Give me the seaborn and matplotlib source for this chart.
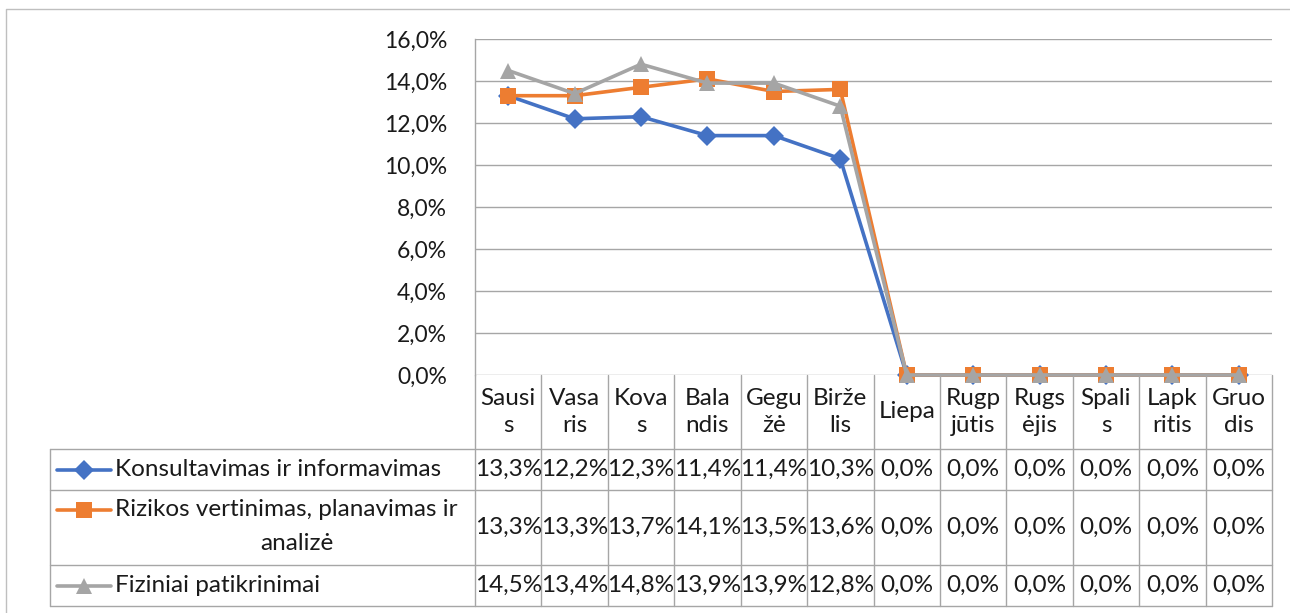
import numpy as np
import pandas as pd
import matplotlib
matplotlib.use("Agg")
import matplotlib.pyplot as plt
import seaborn as sns
from matplotlib.lines import Line2D
from matplotlib.transforms import blended_transform_factory
from matplotlib.ticker import FuncFormatter, MultipleLocator

# ---------------- data ----------------
month_labels = ["Sausi\ns", "Vasa\nris", "Kova\ns", "Bala\nndis", "Gegu\nžė", "Birže\nlis",
                "Liepa", "Rugp\njūtis", "Rugs\nėjis", "Spali\ns", "Lapk\nritis", "Gruo\ndis"]
series_names = ["Konsultavimas ir informavimas",
                "Rizikos vertinimas, planavimas ir\nanalizė",
                "Fiziniai patikrinimai"]
konsultavimas = [13.3, 12.2, 12.3, 11.4, 11.4, 10.3, 0.0, 0.0, 0.0, 0.0, 0.0, 0.0]
rizikos = [13.3, 13.3, 13.7, 14.1, 13.5, 13.6, 0.0, 0.0, 0.0, 0.0, 0.0, 0.0]
fiziniai = [14.5, 13.4, 14.8, 13.9, 13.9, 12.8, 0.0, 0.0, 0.0, 0.0, 0.0, 0.0]
series_values = [konsultavimas, rizikos, fiziniai]

colors = ["#4472C4", "#ED7D31", "#A5A5A5"]
markers = ["D", "s", "^"]
msizes = [10, 11, 11.5]

FONT = "Lato"
FS = 17.5
FS_TICK = 16.5
TXT = "#1a1a1a"
GRID = "#a6a6a6"

sns.set_theme(style="white")
plt.rcParams["font.family"] = [FONT, "DejaVu Sans"]

W, H = 1290, 613
fig = plt.figure(figsize=(W / 100, H / 100), dpi=100)

def fy(py):
    return 1 - py / H

def fx(px):
    return px / W

L, R, T, B = 475, 1272, 39, 375
ax = fig.add_axes([fx(L), fy(B), fx(R) - fx(L), fy(T) - fy(B)])

n = len(month_labels)
for i, (name, vals) in enumerate(zip(series_names, series_values)):
    df = pd.DataFrame({"x": np.arange(n), "y": vals})
    sns.lineplot(data=df, x="x", y="y", ax=ax, color=colors[i], marker=markers[i],
                 markersize=msizes[i], markeredgewidth=0, linewidth=2.6, zorder=3 + i,
                 clip_on=False)

ax.set_xlim(-0.5, n - 0.5)
ax.set_ylim(0, 16)
ax.yaxis.set_major_locator(MultipleLocator(2))
ax.yaxis.set_major_formatter(FuncFormatter(lambda v, p: f"{v:.1f}%".replace(".", ",")))
ax.set_xticks([])
ax.set_xlabel("")
ax.set_ylabel("")
ax.grid(axis="y", color=GRID, linewidth=1.0)
ax.set_axisbelow(True)
for s in ["top", "right", "bottom"]:
    ax.spines[s].set_visible(False)
ax.spines["left"].set_color(GRID)
ax.spines["left"].set_linewidth(1.0)
ax.tick_params(axis="y", length=0, pad=20, labelsize=FS_TICK, labelcolor=TXT)
for lab in ax.get_yticklabels():
    lab.set_fontfamily([FONT, "DejaVu Sans"])

# ---------------- data table ----------------
bt = blended_transform_factory(ax.transData, fig.transFigure)
rows_y = [B, 449, 490, 565, 606]
LEG_L = 50

def hline(x0, x1, py):
    fig.add_artist(Line2D([fx(x0), fx(x1)], [fy(py), fy(py)], color=GRID, lw=1.0,
                          transform=fig.transFigure))

def vline(px, y0, y1):
    fig.add_artist(Line2D([fx(px), fx(px)], [fy(y0), fy(y1)], color=GRID, lw=1.0,
                          transform=fig.transFigure))

for py in rows_y[1:]:
    hline(LEG_L, R, py)
vline(LEG_L, rows_y[1], rows_y[-1])
for j in range(n + 1):
    px = L + (R - L) * j / n
    vline(px, B, rows_y[-1])

# header labels
for j, lab in enumerate(month_labels):
    fig.text(j, fy((rows_y[0] + rows_y[1]) / 2), lab, transform=bt, ha="center",
             va="center", fontsize=FS, color=TXT, linespacing=1.38)

# values
for i, vals in enumerate(series_values):
    yc = fy((rows_y[i + 1] + rows_y[i + 2]) / 2)
    for j, v in enumerate(vals):
        fig.text(j, yc, f"{v:.1f}%".replace(".", ","), transform=bt, ha="center",
                 va="center", fontsize=FS, color=TXT)
    # legend key
    ky = yc if i != 1 else fy(510)
    fig.add_artist(Line2D([fx(57), fx(111)], [ky, ky],
                          color=colors[i], lw=2.6, transform=fig.transFigure))
    fig.add_artist(Line2D([fx(84)], [ky], color=colors[i],
                          marker=markers[i], markersize=msizes[i], markeredgewidth=0,
                          transform=fig.transFigure))
    name = series_names[i]
    if i == 1:
        fig.text(fx(115), fy(510), name.split("\n")[0], ha="left", va="center",
                 fontsize=FS, color=TXT)
        fig.text(fx(297), fy(544), name.split("\n")[1], ha="center",
                 va="center", fontsize=FS, color=TXT)
    else:
        fig.text(fx(115), yc, name, ha="left", va="center", fontsize=FS, color=TXT)

# outer chart border
fig.add_artist(Line2D([fx(6), fx(6), fx(W + 5)], [fy(H + 5), fy(9), fy(9)], color="#bfbfbf",
                      lw=1.0, transform=fig.transFigure))

fig.savefig("out.png", dpi=100, facecolor="white")
